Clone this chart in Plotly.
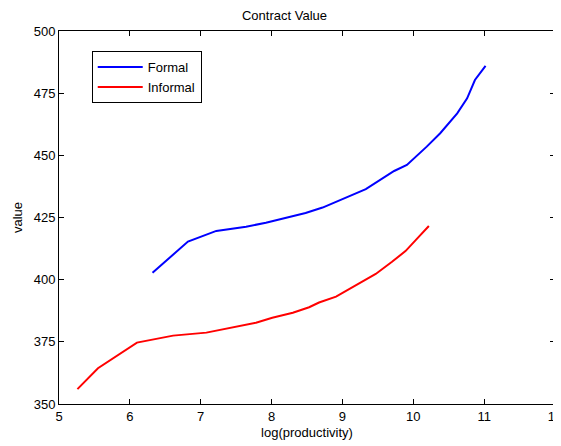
import plotly.graph_objects as go

formal_x = [6.32, 6.82, 7.22, 7.64, 7.92, 8.20, 8.48, 8.72, 8.95, 9.33, 9.73, 9.91, 10.19, 10.38, 10.62, 10.76, 10.87, 11.02]
formal_y = [402.8, 415.3, 419.6, 421.3, 422.9, 424.9, 426.8, 429.0, 431.8, 436.4, 443.7, 446.1, 453.5, 458.9, 466.9, 472.9, 480.3, 486.0]

informal_x = [5.26, 5.55, 6.10, 6.61, 7.08, 7.45, 7.78, 8.01, 8.30, 8.53, 8.67, 8.91, 9.09, 9.47, 9.70, 9.89, 10.08, 10.22]
informal_y = [356.0, 364.4, 374.7, 377.5, 378.7, 380.7, 382.7, 384.7, 386.7, 388.9, 390.8, 393.2, 396.1, 402.3, 407.2, 411.5, 417.3, 421.6]

x_ticks = [5, 6, 7, 8, 9, 10, 11, 12]
y_ticks = [350, 375, 400, 425, 450, 475, 500]

font = "Liberation Sans, Arial, sans-serif"
fs = 13

fig = go.Figure()
fig.add_trace(go.Scatter(x=formal_x, y=formal_y, mode="lines", name="Formal",
                         line=dict(color="#0000ff", width=2)))
fig.add_trace(go.Scatter(x=informal_x, y=informal_y, mode="lines", name="Informal",
                         line=dict(color="#ff0000", width=2)))

axis_common = dict(showgrid=False, zeroline=False, showline=True, linecolor="black",
                   linewidth=1, mirror="ticks", ticks="inside", ticklen=5,
                   tickcolor="black", automargin=False, ticklabeloverflow="allow",
                   tickfont=dict(family=font, size=fs, color="black"))

# page has an 8px default body margin, so the figure is sized to fit the window
fig.update_layout(
    width=553, height=438,
    margin=dict(l=51, r=6, t=23, b=42, autoexpand=False),
    paper_bgcolor="white", plot_bgcolor="white",
    title=dict(text="Contract Value", x=0.5, xanchor="center", y=1 - 7 / 438, yanchor="middle",
               font=dict(family=font, size=fs, color="black")),
    xaxis=dict(range=[5, 12.0001], tickvals=x_ticks, ticktext=[str(v) for v in x_ticks],
               title=dict(text="log(productivity)", standoff=5,
                          font=dict(family=font, size=fs, color="black")),
               **axis_common),
    yaxis=dict(range=[350, 500], tickvals=y_ticks, ticktext=[str(v) for v in y_ticks],
               title=dict(text="value", standoff=8,
                          font=dict(family=font, size=fs, color="black")),
               **axis_common),
    legend=dict(x=0.066, y=0.946, xanchor="left", yanchor="top",
                bgcolor="white", bordercolor="black", borderwidth=1,
                font=dict(family=font, size=fs, color="black"),
                tracegroupgap=0, itemwidth=45),
    showlegend=True,
)

fig.write_html("out.html")
